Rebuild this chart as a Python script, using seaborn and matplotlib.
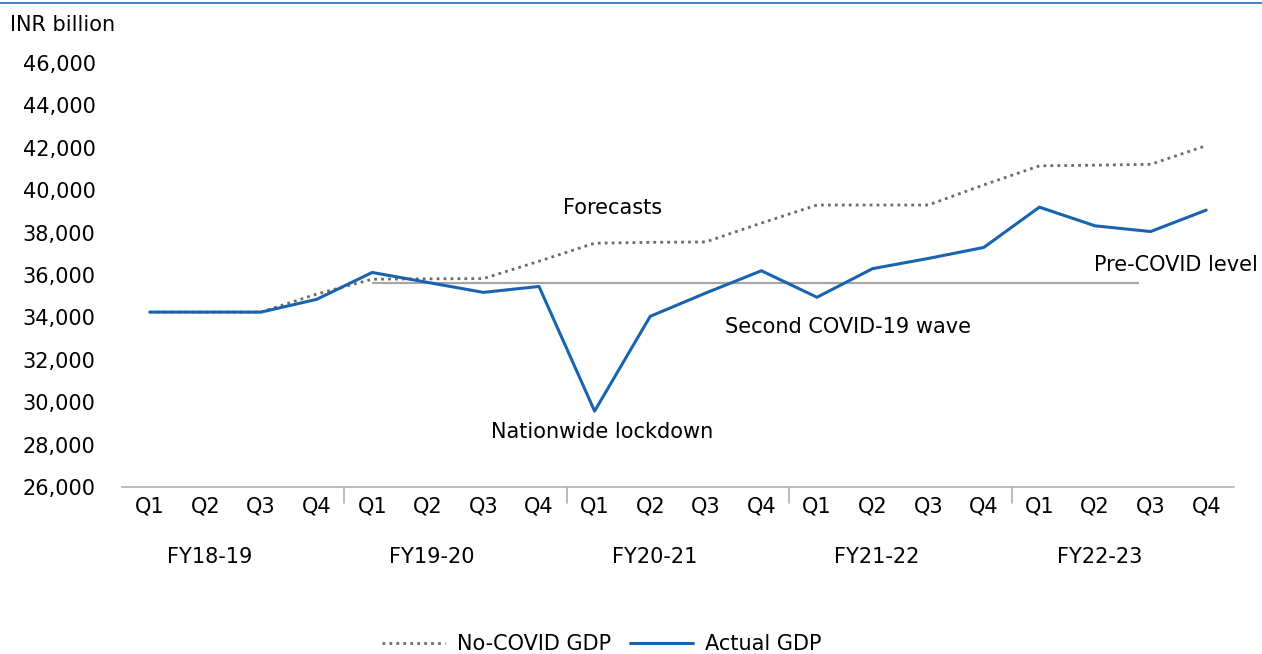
import matplotlib
matplotlib.use("Agg")
import matplotlib.pyplot as plt
import matplotlib.lines as mlines
import seaborn as sns
import pandas as pd
import numpy as np

# ---- data ----
fiscal_years = ["FY18-19", "FY19-20", "FY20-21", "FY21-22", "FY22-23"]
quarters = ["Q1", "Q2", "Q3", "Q4"]
no_covid_gdp = [34250, 34250, 34250, 35100,
                35800, 35820, 35830, 36650,
                37500, 37540, 37560, 38450,
                39300, 39300, 39300, 40250,
                41150, 41180, 41220, 42100]
actual_gdp = [34250, 34250, 34250, 34850,
              36120, 35650, 35180, 35460,
              29580, 34050, 35150, 36200,
              34950, 36300, 36780, 37300,
              39200, 38320, 38050, 39060]
pre_covid_level = 35620
y_ticks = list(range(26000, 46001, 2000))

sns.set_theme(style="white")
plt.rcParams['font.family'] = ['DejaVu Sans']
plt.rcParams['text.color'] = 'black'
plt.rcParams['xtick.color'] = 'black'
plt.rcParams['ytick.color'] = 'black'

n = len(actual_gdp)
x = np.arange(n)
df = pd.DataFrame({
    "x": np.concatenate([x, x]),
    "value": no_covid_gdp + actual_gdp,
    "series": ["No-COVID GDP"] * n + ["Actual GDP"] * n,
})

W, H = 1262, 654
fig = plt.figure(figsize=(W / 100, H / 100), dpi=100)
ax = fig.add_axes([122 / W, 1 - 487 / H, (1234 - 122) / W, (487 - 63) / H])

blue = "#1a63b0"
gray_dot = "#6b6b6b"
dots = (0, (1, 1.5))

sns.lineplot(data=df[df.series == "No-COVID GDP"], x="x", y="value", ax=ax,
             color=gray_dot, linestyle=dots, linewidth=2.0, legend=False)
sns.lineplot(data=df[df.series == "Actual GDP"], x="x", y="value", ax=ax,
             color=blue, linewidth=2.2, legend=False)
ax.hlines(pre_covid_level, 4, 17.8, color="#a6a6a6", linewidth=1.6, zorder=1)

ax.set_xlim(-0.5, n - 0.5)
ax.set_ylim(26000, 46000)
ax.set_yticks(y_ticks)
ax.set_yticklabels([f"{v:,}" for v in y_ticks], fontsize=15)
ax.tick_params(axis="y", length=0, pad=19)
ax.set_xticks(x)
ax.set_xticklabels(quarters * len(fiscal_years), fontsize=15)
ax.tick_params(axis="x", length=0, pad=7)
ax.set_xlabel("")
ax.set_ylabel("")
for s in ["top", "right", "left"]:
    ax.spines[s].set_visible(False)
ax.spines["bottom"].set_color("#b0b0b0")
ax.spines["bottom"].set_linewidth(1.2)
ax.grid(False)

# group separators
for b in np.arange(3.5, n - 1, 4):
    ax.plot([b, b], [0, -0.038], transform=ax.get_xaxis_transform(),
            color="#b0b0b0", linewidth=1.2, clip_on=False)

# fiscal year labels
for i, fy in enumerate(fiscal_years):
    ax.text(1.08 + 4 * i, -0.165, fy, transform=ax.get_xaxis_transform(),
            ha="center", va="center", fontsize=15)

# annotations
ax.text(8.33, 39160, "Forecasts", ha="center", va="center", fontsize=15)
ax.text(19.93, 36470, "Pre-COVID level", ha="right", va="center", fontsize=15)
ax.text(12.55, 33550, "Second COVID-19 wave", ha="center", va="center", fontsize=15)
ax.text(8.13, 28590, "Nationwide lockdown", ha="center", va="center", fontsize=15)

fig.text(10 / W, 1 - 25 / H, "INR billion", ha="left", va="center", fontsize=15)

# top decorative rule
fig.add_artist(mlines.Line2D([0, 1], [1 - 2.5 / H, 1 - 2.5 / H],
                             transform=fig.transFigure, color="#1f6fbf", linewidth=1.2))

handles = [
    mlines.Line2D([], [], color=gray_dot, linestyle=dots, linewidth=2.0),
    mlines.Line2D([], [], color=blue, linewidth=2.2),
]
fig.legend(handles, ["No-COVID GDP", "Actual GDP"], loc="center",
           bbox_to_anchor=(602 / W, 1 - 644 / H), ncol=2, frameon=False,
           fontsize=15, handlelength=3.0, handletextpad=0.6, columnspacing=0.9)

fig.savefig("out.png", dpi=100)
